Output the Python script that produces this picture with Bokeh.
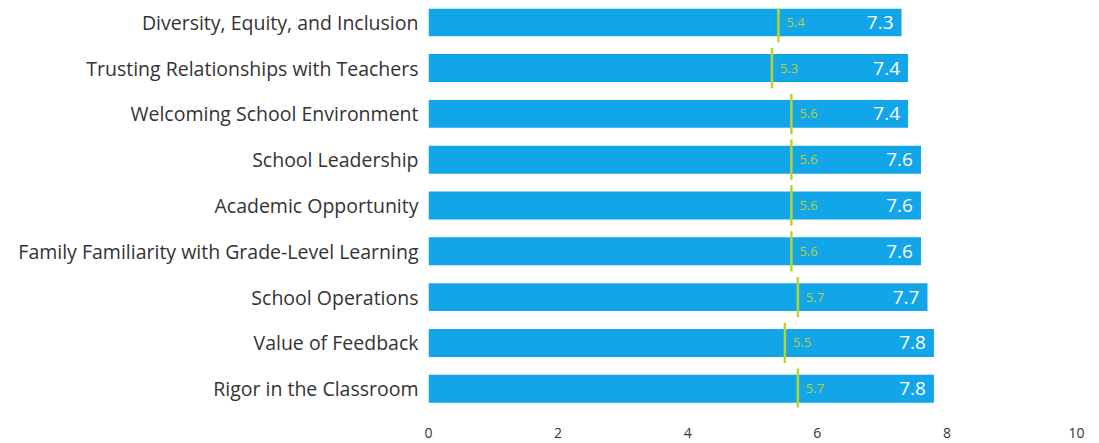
from bokeh.plotting import figure
from bokeh.models import ColumnDataSource, Range1d, FixedTicker, LabelSet
from bokeh.core.properties import value
from bokeh.embed import file_html
from bokeh.resources import INLINE

categories = [
    "Diversity, Equity, and Inclusion",
    "Trusting Relationships with Teachers",
    "Welcoming School Environment",
    "School Leadership",
    "Academic Opportunity",
    "Family Familiarity with Grade-Level Learning",
    "School Operations",
    "Value of Feedback",
    "Rigor in the Classroom",
]
school_scores = [7.3, 7.4, 7.4, 7.6, 7.6, 7.6, 7.7, 7.8, 7.8]
benchmark_scores = [5.4, 5.3, 5.6, 5.6, 5.6, 5.6, 5.7, 5.5, 5.7]
x_ticks = [0, 2, 4, 6, 8, 10]

n = len(categories)
ypos = [n - 1 - i for i in range(n)]

src = ColumnDataSource(dict(
    y=ypos,
    score=school_scores,
    bench=benchmark_scores,
    score_txt=[f"{v:.1f}" for v in school_scores],
    bench_txt=[f"{v:.1f}" for v in benchmark_scores],
    zero=[0] * n,
))

p = figure(width=1090, height=440, output_backend="svg", toolbar_location=None,
           x_range=Range1d(0, 10), y_range=Range1d(-0.41, n - 1 + 0.3),
           min_border_left=428, min_border_right=14, min_border_top=8,
           min_border_bottom=31)
p.outline_line_color = None
p.grid.grid_line_color = None
p.background_fill_color = "white"

p.hbar(y="y", left="zero", right="score", height=0.61, source=src,
       fill_color="#12A5E8", line_color=None)

p.rect(x="bench", y="y", width=2.5, width_units="screen", height=0.88,
       source=src, fill_color="#B6D534", line_color=None)

lbl_score = LabelSet(x="score", y="y", text="score_txt", source=src,
                     x_offset=-8, text_align="right", text_baseline="middle",
                     text_color="white", text_font_size="19px",
                     text_font=value("Open Sans"))
lbl_bench = LabelSet(x="bench", y="y", text="bench_txt", source=src,
                     x_offset=8, text_align="left", text_baseline="middle",
                     text_color="#B0D23C", text_font_size="13px",
                     text_font=value("Open Sans"))
p.add_layout(lbl_score)
p.add_layout(lbl_bench)

p.xaxis.ticker = FixedTicker(ticks=x_ticks)
p.xaxis.axis_line_color = None
p.xaxis.major_tick_line_color = None
p.xaxis.minor_tick_line_color = None
p.xaxis.major_label_standoff = 14
p.xaxis.major_label_text_font = "Open Sans"
p.xaxis.major_label_text_font_size = "14px"
p.xaxis.major_label_text_color = "#333333"

p.yaxis.ticker = FixedTicker(ticks=ypos)
p.yaxis.major_label_overrides = {y: c for y, c in zip(ypos, categories)}
p.yaxis.axis_line_color = None
p.yaxis.major_tick_line_color = None
p.yaxis.minor_tick_line_color = None
p.yaxis.major_label_standoff = 4
p.yaxis.major_label_text_font = "Open Sans"
p.yaxis.major_label_text_font_size = "19.5px"
p.yaxis.major_label_text_color = "#333333"

open("out.html", "w").write(file_html(p, INLINE))
